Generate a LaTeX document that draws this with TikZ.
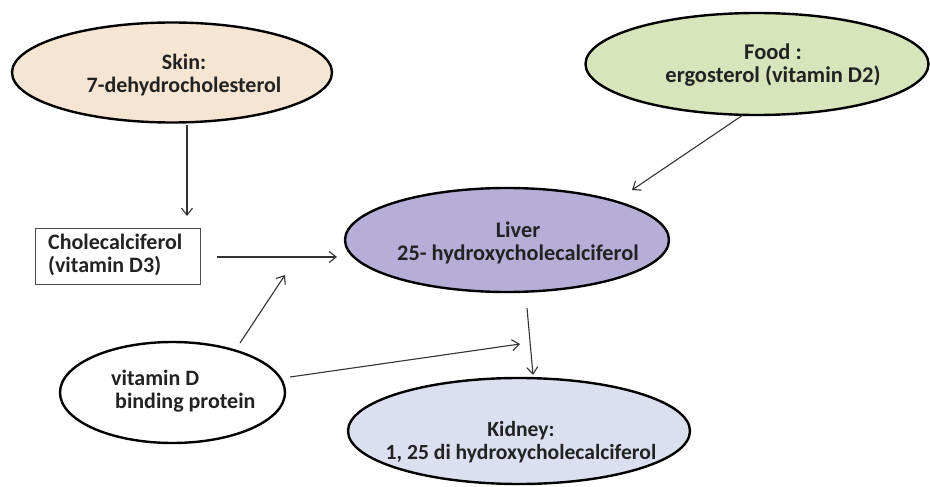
\documentclass[tikz,border=0pt]{standalone}
\usepackage{fontspec}
\setmainfont{Carlito}
\usetikzlibrary{shapes.geometric,arrows.meta}
\definecolor{skinc}{HTML}{F6E5D2}
\definecolor{foodc}{HTML}{D8E4BC}
\definecolor{liverc}{HTML}{B6AED6}
\definecolor{kidneyc}{HTML}{DBE0F0}
\definecolor{linec}{HTML}{333333}
\definecolor{txtc}{HTML}{222222}
\tikzset{
  organ/.style={ellipse, draw=black, line width=2.4pt, inner sep=0pt},
  lbl/.style={inner sep=0pt, align=center, text=txtc, font=\fontsize{#1}{23}\selectfont\bfseries},
  conn/.style={draw=linec, line width=1.1pt, -{Straight Barb[length=7pt,width=11pt,line width=1.1pt]}},
  boxnode/.style={draw=black!70, line width=1.4pt, inner sep=0pt}
}
\begin{document}
\begin{tikzpicture}[x=1pt,y=-1pt]
\useasboundingbox[fill=white] (0,0) rectangle (930,487);
% shapes
\node[organ, fill=skinc, minimum width=320pt, minimum height=100pt] (skin) at (172,72.5) {};
\node[organ, fill=foodc, minimum width=343pt, minimum height=102pt] (food) at (757,64) {};
\node[organ, fill=liverc, minimum width=324pt, minimum height=104pt] (liver) at (507,240) {};
\node[organ, fill=kidneyc, minimum width=342pt, minimum height=106pt] (kidney) at (519,431) {};
\node[organ, fill=white, minimum width=225pt, minimum height=101pt] (vdbp) at (172.5,392.5) {};
\node[boxnode, minimum width=165pt, minimum height=56pt, anchor=north west] (chole) at (35,228) {};
% texts
\node[lbl=22] (skintext) at (184,75.5) {Skin:\\7-dehydrocholesterol};
\node[lbl=22.5] (foodtext) at (773,65.5) {Food :\\ergosterol (vitamin D2)};
\node[lbl=22.3] (livertext) at (518,243) {Liver\\25- hydroxycholecalciferol};
\node[lbl=21.6] (kidneytext) at (521,442.5) {Kidney:\\1, 25 di hydroxycholecalciferol};
\node[lbl=22, align=left, anchor=west] (cholext) at (48,254.7) {Cholecalciferol\\(vitamin D3)};
\node[lbl=22, align=left, anchor=west] (vdbptext) at (111,391.3) {vitamin D\\\hspace*{4pt}binding protein};
% connectors
\coordinate (a1s) at (187,125); \coordinate (a1e) at (187,216);
\coordinate (a2s) at (217,257); \coordinate (a2e) at (337,257);
\coordinate (a3s) at (240,343); \coordinate (a3e) at (285,275);
\coordinate (a4s) at (290,377); \coordinate (a4e) at (520,344);
\coordinate (a5s) at (743,115); \coordinate (a5e) at (632,190);
\coordinate (a6s) at (527,308); \coordinate (a6e) at (533,375);
\draw[conn] (a1s) -- (a1e);
\draw[conn] (a2s) -- (a2e);
\draw[conn] (a3s) -- (a3e);
\draw[conn] (a4s) -- (a4e);
\draw[conn] (a5s) -- (a5e);
\draw[conn] (a6s) -- (a6e);
\end{tikzpicture}
\end{document}
